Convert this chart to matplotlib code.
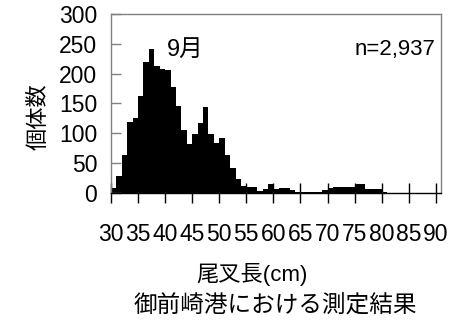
import matplotlib
matplotlib.use("Agg")
import matplotlib.pyplot as plt

plt.rcParams['font.family'] = ['Liberation Sans Narrow', 'Liberation Sans', 'Noto Sans CJK JP', 'DejaVu Sans']

# fork length (cm), lower edge of each 1 cm class
lengths = list(range(30, 81))
counts = [8, 28, 64, 118, 126, 163, 220, 242, 213, 208,
          206, 177, 145, 106, 82, 99, 117, 144, 99, 83,
          91, 64, 42, 23, 12, 10, 10, 3, 6, 15,
          6, 8, 8, 5, 2, 1, 1, 1, 2, 5,
          8, 10, 10, 10, 9, 14, 14, 6, 6, 6, 1]
xticks = list(range(30, 91, 5))
yticks = list(range(0, 301, 50))

month_label = "9月"
n_label = "n=2,937"
xlabel = "尾叉長(cm)"
ylabel = "個体数"
caption = "御前崎港における測定結果"

fig = plt.figure(figsize=(4.76, 3.23), dpi=100)
ax = fig.add_axes([0.2332, 0.4034, 0.6926, 0.5533])

ax.bar(lengths, counts, width=1.0, align='edge', color='black', linewidth=0)

ax.set_xlim(30, 90.9)
ax.set_ylim(0, 300)
ax.set_xticks(xticks)
ax.set_xticklabels([str(t) for t in xticks], fontsize=16.5)
ax.set_yticks(yticks)
ax.set_yticklabels([str(t) for t in yticks], fontsize=16.5)

ax.tick_params(axis='x', direction='inout', length=14, width=1, color='black', pad=15)
ax.tick_params(axis='y', direction='in', length=7, width=1, color='gray', pad=10)

for side in ['left', 'right', 'top']:
    ax.spines[side].set_color('gray')
    ax.spines[side].set_linewidth(1)
ax.spines['bottom'].set_color('black')
ax.spines['bottom'].set_linewidth(1)

ax.text(0.226, 0.80, month_label, transform=ax.transAxes, fontsize=17,
        ha='center', va='center')
ax.text(0.985, 0.80, n_label, transform=ax.transAxes, fontsize=16,
        ha='right', va='center')

fig.text(0.082, 0.639, ylabel, rotation=90, fontsize=16, ha='center', va='center')
fig.text(0.529, 0.149, xlabel, fontsize=16, ha='center', va='center')
fig.text(0.579, 0.053, caption, fontsize=17, ha='center', va='center')

fig.savefig("out.png", dpi=100)
